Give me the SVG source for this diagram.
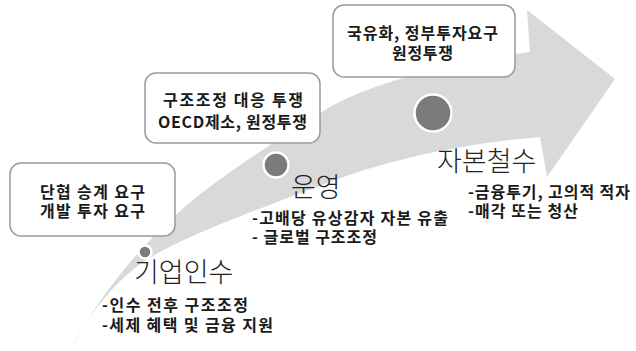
<svg xmlns="http://www.w3.org/2000/svg" width="636" height="351" viewBox="0 0 636 351">
<style>
.box{fill:#ffffff;stroke:#9a9a9a;stroke-width:1.5}
.bt{font-family:"Noto Sans CJK KR","Noto Sans",sans-serif;font-size:16px;font-weight:700;fill:#1a1a1a;text-anchor:middle}
.st{font-family:"Noto Sans CJK KR","Noto Sans",sans-serif;font-size:16px;font-weight:700;fill:#1a1a1a}
.big{font-family:"Noto Sans CJK KR","Noto Sans",sans-serif;font-size:27px;font-weight:300;fill:#222222}
.dot{fill:#7b7b7b;stroke:#ffffff;stroke-width:2.5}
</style>
<rect width="636" height="351" fill="#ffffff"/>
<g id="arrow">
<path fill="#d9d9d9" d="M70,350 C100,295 140,245 187,205 C225,173 285,135 325,110 C365,85 450,62 530,52 L527,10 L615,79 L547,177 L540,137 C480,142 400,155 327,183 C260,209 170,240 135,268 C110,288 85,320 70,350 Z"/>
</g>
<g id="stage-acquisition">
<circle class="dot" cx="145" cy="252" r="6.5"/>
<text class="big" x="134" y="282">기업인수</text>
<text class="st" x="102" y="311" textLength="146" lengthAdjust="spacing">-인수 전후 구조조정</text>
<text class="st" x="102" y="331" textLength="171" lengthAdjust="spacing">-세제 혜택 및 금융 지원</text>
</g>
<g id="stage-operation">
<circle class="dot" cx="276" cy="165" r="12.5"/>
<text class="big" x="291" y="197">운영</text>
<text class="st" x="252" y="224" textLength="196" lengthAdjust="spacing">-고배당 유상감자 자본 유출</text>
<text class="st" x="252" y="243" textLength="125" lengthAdjust="spacing">- 글로벌 구조조정</text>
</g>
<g id="stage-withdrawal">
<circle class="dot" cx="433" cy="113" r="18.5"/>
<text class="big" x="437" y="171">자본철수</text>
<text class="st" x="468" y="198" textLength="162" lengthAdjust="spacing">-금융투기, 고의적 적자</text>
<text class="st" x="468" y="217" textLength="110" lengthAdjust="spacing">-매각 또는 청산</text>
</g>
<g id="box-1">
<rect class="box" x="10" y="163" width="165" height="73" rx="11"/>
<text class="bt" x="92.5" y="198" textLength="105" lengthAdjust="spacing">단협 승계 요구</text>
<text class="bt" x="92.5" y="217" textLength="105" lengthAdjust="spacing">개발 투자 요구</text>
</g>
<g id="box-2">
<rect class="box" x="145" y="73" width="175" height="70" rx="11"/>
<text class="bt" x="233" y="106" textLength="140" lengthAdjust="spacing">구조조정 대응 투쟁</text>
<text class="bt" x="232.5" y="128" textLength="149" lengthAdjust="spacing">OECD제소, 원정투쟁</text>
</g>
<g id="box-3">
<rect class="box" x="333" y="5" width="182" height="72" rx="11"/>
<text class="bt" x="422.5" y="39" textLength="151" lengthAdjust="spacing">국유화, 정부투자요구</text>
<text class="bt" x="422.5" y="59" textLength="61" lengthAdjust="spacing">원정투쟁</text>
</g>
</svg>
